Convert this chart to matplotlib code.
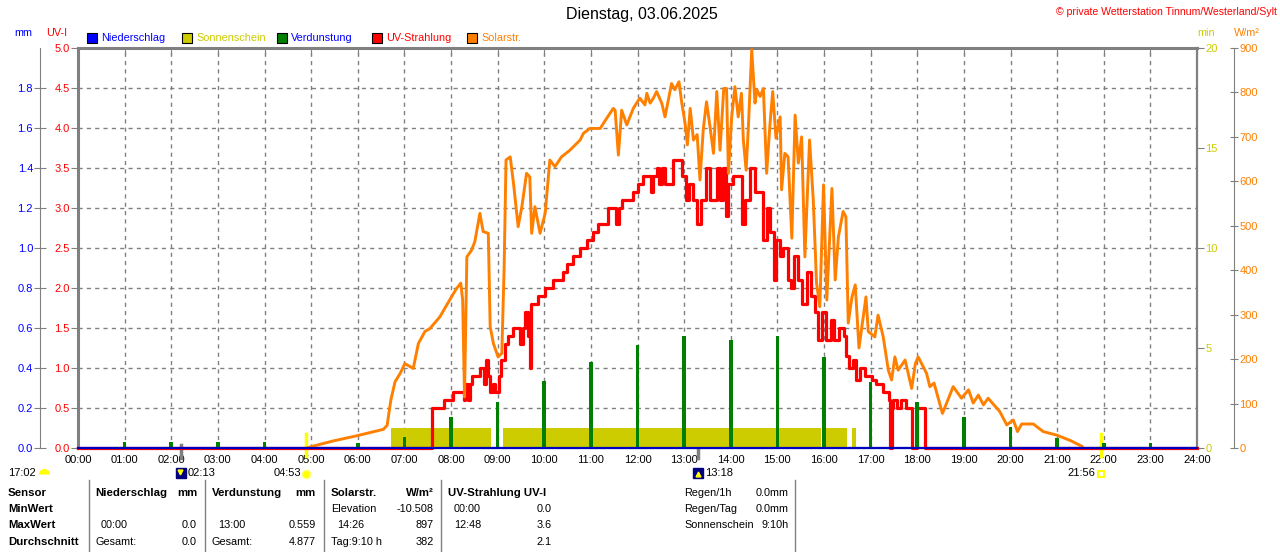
import matplotlib
matplotlib.use("Agg")
import matplotlib.pyplot as plt
from matplotlib.patches import Rectangle

plt.rcParams['font.family'] = ['Liberation Sans', 'DejaVu Sans']

# ---- data ----
hours = list(range(25))
hour_labels = ["%02d:00" % h for h in hours]

# Verdunstung per hour (mm)
evap_hours = [1, 2, 3, 4, 6, 7, 8, 9, 10, 11, 12, 13, 14, 15, 16, 17, 18, 19, 20, 21, 22, 23]
evap_mm = [0.03, 0.03, 0.03, 0.03, 0.025, 0.055, 0.155, 0.23, 0.335, 0.43, 0.515, 0.559,
           0.54, 0.56, 0.455, 0.33, 0.23, 0.155, 0.105, 0.05, 0.025, 0.025]

# Sonnenschein intervals (hours), minutes of sun per sample
sun_start = [6.72, 9.12, 15.96, 16.60]
sun_end = [8.85, 15.93, 16.50, 16.68]
sun_min = [1.0, 1.0, 1.0, 1.0]

# Niederschlag (mm)
rain_t = [0, 24]
rain_mm = [0.0, 0.0]

# UV-Strahlung (UV-I)
uv_t = [0, 7.60, 7.84, 8.05, 8.27, 8.31, 8.36, 8.40, 8.44, 8.62, 8.70, 8.76, 8.80, 8.84,
        8.90, 8.95, 9.02, 9.08, 9.16, 9.23, 9.34, 9.48, 9.55, 9.59, 9.65, 9.69, 9.72, 9.87,
        10.02, 10.19, 10.40, 10.48, 10.62, 10.77, 10.91, 11.05, 11.16, 11.37, 11.53, 11.60,
        11.66, 11.91, 12.00, 12.12, 12.28, 12.33, 12.41, 12.47, 12.52, 12.58, 12.77, 12.95,
        13.03, 13.10, 13.18, 13.28, 13.37, 13.47, 13.55, 13.70, 13.76, 13.84, 13.89, 13.95,
        14.05, 14.24, 14.31, 14.42, 14.52, 14.70, 14.78, 14.85, 14.93, 14.98, 15.05, 15.12,
        15.22, 15.30, 15.36, 15.45, 15.53, 15.63, 15.72, 15.80, 15.88, 15.96, 16.04, 16.14,
        16.21, 16.33, 16.43, 16.48, 16.54, 16.62, 16.68, 16.77, 16.88, 17.02, 17.12, 17.26,
        17.40, 17.42, 17.45, 17.48, 17.56, 17.66, 17.75, 17.88, 18.00, 18.17, 24]
uv_v = [0.0, 0.5, 0.6, 0.7, 0.6, 0.8, 0.6, 0.8, 0.9, 1.0, 0.8, 1.1, 0.9, 0.7,
        0.8, 0.7, 0.9, 1.1, 1.3, 1.4, 1.5, 1.3, 1.5, 1.7, 1.4, 1.0, 1.8, 1.9,
        2.0, 2.1, 2.2, 2.3, 2.4, 2.5, 2.6, 2.7, 2.8, 3.0, 2.8, 3.0,
        3.1, 3.2, 3.3, 3.4, 3.2, 3.4, 3.5, 3.3, 3.5, 3.3, 3.6, 3.4,
        3.1, 3.3, 3.1, 2.8, 3.1, 3.5, 3.1, 3.5, 3.1, 3.5, 2.9, 3.3,
        3.4, 2.8, 3.1, 3.5, 3.2, 2.6, 3.0, 2.7, 2.1, 2.6, 2.4, 2.5,
        2.1, 2.0, 2.4, 2.1, 1.8, 2.2, 1.9, 1.7, 1.35, 1.7, 1.35, 1.6,
        1.35, 1.5, 1.4, 1.15, 1.0, 1.1, 0.85, 1.0, 0.9, 0.85, 0.8, 0.7,
        0.6, 0.0, 0.5, 0.6, 0.5, 0.6, 0.5, 0.0, 0.5, 0.0, 0.0]

# Solarstrahlung (W/m2)
solar_t = [4.92, 5.00, 5.48, 6.00, 6.55, 6.63, 6.71, 6.80, 6.91, 7.01, 7.19, 7.30, 7.44, 7.55,
           7.76, 8.01, 8.12, 8.21, 8.25, 8.29, 8.34, 8.44, 8.51, 8.62, 8.69, 8.80, 8.84, 8.91,
           9.01, 9.09, 9.14, 9.18, 9.27, 9.34, 9.44, 9.52, 9.62, 9.69, 9.73, 9.80, 9.91, 10.02,
           10.12, 10.23, 10.37, 10.55, 10.77, 10.84, 10.98, 11.20, 11.34, 11.48, 11.52, 11.59,
           11.66, 11.77, 11.91, 11.98, 12.05, 12.16, 12.20, 12.27, 12.34, 12.41, 12.52, 12.59,
           12.73, 12.80, 12.89, 12.95, 13.02, 13.07, 13.13, 13.20, 13.28, 13.34, 13.41, 13.48,
           13.55, 13.63, 13.70, 13.77, 13.85, 13.91, 13.95, 14.02, 14.09, 14.16, 14.23, 14.27,
           14.33, 14.38, 14.45, 14.52, 14.56, 14.63, 14.70, 14.77, 14.84, 14.90, 14.97, 15.06,
           15.09, 15.16, 15.23, 15.31, 15.38, 15.45, 15.52, 15.59, 15.69, 15.77, 15.84, 15.91,
           15.99, 16.06, 16.17, 16.24, 16.31, 16.41, 16.47, 16.52, 16.60, 16.67, 16.75, 16.90,
           16.95, 17.09, 17.16, 17.27, 17.38, 17.45, 17.52, 17.59, 17.74, 17.88, 17.96, 18.02,
           18.20, 18.27, 18.36, 18.54, 18.63, 18.77, 18.95, 19.10, 19.20, 19.31, 19.42, 19.52,
           19.77, 19.92, 20.06, 20.15, 20.24, 20.49, 20.70, 20.99, 21.28, 21.53, 21.56]
solar_v = [0, 3, 16, 28, 42, 51, 108, 149, 168, 190, 179, 235, 262, 269,
           295, 340, 359, 371, 333, 115, 430, 445, 464, 528, 487, 483, 273, 235,
           205, 213, 408, 648, 655, 596, 498, 543, 618, 610, 483, 543, 483, 528,
           648, 633, 655, 670, 693, 708, 719, 719, 742, 764, 760, 659,
           760, 727, 764, 776, 787, 772, 798, 776, 787, 802, 776, 745,
           820, 806, 824, 776, 731, 682, 764, 693, 705, 603, 716, 779,
           727, 663, 802, 670, 809, 809, 618, 745, 813, 745, 798, 693,
           625, 727, 896, 776, 806, 791, 809, 618, 727, 802, 697, 745,
           581, 663, 655, 472, 749, 641, 700, 430, 693, 558, 371, 318,
           592, 333, 584, 378, 476, 532, 520, 281, 340, 367, 225, 340,
           262, 250, 299, 250, 175, 153, 205, 175, 198, 134, 190, 205,
           168, 138, 146, 78, 101, 138, 112, 131, 101, 119, 97, 112,
           82, 52, 63, 37, 54, 54, 37, 29, 17, 4, 0]

sunrise, sunset = 4 + 53 / 60, 21 + 56 / 60
moonrise, moonset = 2 + 13 / 60, 13 + 18 / 60

GRAY = '#808080'
ORANGE = '#FF8000'
YELLOW = '#CCCC00'
GREEN = '#008000'

W, H = 1280, 552
PT = 0.72  # points per pixel at 100 dpi
fig = plt.figure(figsize=(W / 100, H / 100), dpi=100)
fig.patch.set_facecolor('white')

ax = fig.add_axes([78 / W, 104 / H, 1119 / W, 400 / H])
ax.set_xlim(0, 24)
ax.set_ylim(0, 5)
ax.set_xticks(hours)
ax.set_xticklabels(hour_labels)
ax.set_yticks([i * 0.5 for i in range(11)])
ax.set_yticklabels(["%.1f" % (i * 0.5) for i in range(11)])
ax.grid(True, color=GRAY, linestyle=(0, (3, 3)), linewidth=1)
ax.tick_params(axis='x', bottom=False, top=True, direction='in', length=5, color=GRAY,
               labelsize=8, pad=5)
ax.tick_params(axis='y', direction='out', length=5, color=GRAY, labelcolor='red', labelsize=8, pad=1)
for s in ['left', 'top']:
    ax.spines[s].set_color(GRAY)
    ax.spines[s].set_linewidth(2.2)
ax.spines['right'].set_color(GRAY)
ax.spines['right'].set_linewidth(1.6)
ax.spines['bottom'].set_color(GRAY)
ax.spines['bottom'].set_linewidth(1.5)

# minutes axis (Sonnenschein)
ax_min = ax.twinx()
ax_min.set_ylim(0, 20)
ax_min.set_yticks([0, 5, 10, 15, 20])
ax_min.tick_params(axis='y', direction='out', length=5, color=GRAY, labelcolor=YELLOW, labelsize=8, pad=1)
for s in ax_min.spines.values():
    s.set_visible(False)
ax_min.bar(sun_start, sun_min, width=[e - s for s, e in zip(sun_start, sun_end)],
           align='edge', color=YELLOW, linewidth=0)

# UV line layer
ax_uv = ax.twinx()
ax_uv.set_ylim(0, 5)
ax_uv.axis('off')
ax_uv.plot(uv_t, uv_v, color='red', lw=2.3, drawstyle='steps-post', clip_on=False)

# W/m2 axis (Solarstr.)
ax_w = ax.twinx()
ax_w.set_ylim(0, 900)
ax_w.set_yticks(range(0, 901, 100))
for k, s in ax_w.spines.items():
    s.set_visible(k == 'right')
ax_w.spines['right'].set_position(('outward', 37 * PT))
ax_w.spines['right'].set_color(GRAY)
ax_w.tick_params(axis='y', direction='inout', length=6, color=GRAY, labelcolor=ORANGE, labelsize=8, pad=1)
ax_w.plot(solar_t, solar_v, color=ORANGE, lw=2.1)

# mm axis (Niederschlag / Verdunstung)
ax_mm = ax.twinx()
ax_mm.set_ylim(0, 2)
ax_mm.yaxis.tick_left()
ax_mm.set_yticks([i * 0.2 for i in range(10)])
ax_mm.set_yticklabels(["%.1f" % (i * 0.2) for i in range(10)])
for k, s in ax_mm.spines.items():
    s.set_visible(k == 'left')
ax_mm.spines['left'].set_position(('outward', 38 * PT))
ax_mm.spines['left'].set_color(GRAY)
ax_mm.tick_params(axis='y', direction='inout', length=8, color=GRAY, labelcolor='blue', labelsize=8, pad=1)
ax_mm.bar(evap_hours, evap_mm, width=0.08, color=GREEN, linewidth=0)
ax_mm.plot(rain_t, rain_mm, color='#0000C0', lw=1.6, clip_on=False)

# sun / moon markers below the axis
trans = ax.get_xaxis_transform()
for t in (sunrise, sunset):
    ax.plot([t, t], [0.035, -0.02], color='#FFFF00', lw=2.5, transform=trans, clip_on=False, zorder=5)
for t in (moonrise, moonset):
    ax.plot([t, t], [0.008, -0.024], color=GRAY, lw=2.5, transform=trans, clip_on=False, zorder=5)

# overlay in pixel coordinates for texts
ov = fig.add_axes([0, 0, 1, 1])
ov.set_xlim(0, W)
ov.set_ylim(H, 0)
ov.axis('off')

ov.text(642, 15, "Dienstag, 03.06.2025", ha='center', va='center', fontsize=11.5)
ov.text(1277, 12, "\u00a9 private Wetterstation Tinnum/Westerland/Sylt", ha='right', va='center',
        fontsize=7.6, color='red')
ov.text(14, 33, "mm", color='blue', fontsize=7.8, va='center')
ov.text(46, 33, "UV-I", color='red', fontsize=7.8, va='center')
ov.text(1197, 33, "min", color=YELLOW, fontsize=7.8, va='center')
ov.text(1234, 33, "W/m\u00b2", color=ORANGE, fontsize=7.8, va='center')

legend_items = [(87, 'blue', "Niederschlag", 'blue'),
                (182, YELLOW, "Sonnenschein", YELLOW),
                (277, GREEN, "Verdunstung", 'blue'),
                (372, 'red', "UV-Strahlung", 'red'),
                (467, ORANGE, "Solarstr.", ORANGE)]
for x0, fc, label, tc in legend_items:
    ov.add_patch(Rectangle((x0, 33), 10, 10, facecolor=fc, edgecolor='black', lw=0.8))
    ov.text(x0 + 14, 38, label, color=tc, fontsize=7.8, va='center')

# sun & moon times
ov.text(8, 473, "17:02", fontsize=8, va='center')
ov.plot([44], [474], marker='o', ms=8, color='#FFFF00', fillstyle='top', markerfacecoloralt='none',
        markeredgewidth=0)
ov.plot([181], [473], marker='s', ms=6.5, color='#000080')
ov.plot([180], [472], marker='v', ms=3.5, color='#FFFF00')
ov.text(188, 473, "02:13", fontsize=8, va='center')
ov.text(301, 473, "04:53", fontsize=8, va='center', ha='right')
ov.plot([306], [474], marker='o', ms=6, color='#FFFF00', markeredgecolor='#FFFF80')
ov.plot([698], [473], marker='s', ms=6.5, color='#000080')
ov.plot([698], [474], marker='^', ms=3.5, color='#FFFF00')
ov.text(705, 473, "13:18", fontsize=8, va='center')
ov.text(1095, 473, "21:56", fontsize=8, va='center', ha='right')
ov.plot([1101], [474], marker='s', ms=5, markerfacecolor='none', markeredgecolor='#FFFF00', mew=1.5)

# summary table
for x in (88.6, 205.3, 323.7, 440.8, 795):
    ov.plot([x, x], [480, 552], color=GRAY, lw=1)

rows_y = [493, 509, 525, 542]
bold = dict(fontsize=8.2, fontweight='bold', va='center')
norm = dict(fontsize=7.8, va='center')
for y, lab in zip(rows_y, ["Sensor", "MinWert", "MaxWert", "Durchschnitt"]):
    ov.text(8, y, lab, **bold)

ov.text(95, rows_y[0], "Niederschlag", **bold)
ov.text(198, rows_y[0], "mm", ha='right', **bold)
ov.text(212, rows_y[0], "Verdunstung", **bold)
ov.text(316, rows_y[0], "mm", ha='right', **bold)
ov.text(331, rows_y[0], "Solarstr.", **bold)
ov.text(434, rows_y[0], "W/m\u00b2", ha='right', **bold)
ov.text(448, rows_y[0], "UV-Strahlung UV-I", **bold)

cells = [
    (101, 'left', 2, "00:00"), (197, 'right', 2, "0.0"),
    (95, 'left', 3, "Gesamt:"), (197, 'right', 3, "0.0"),
    (218, 'left', 2, "13:00"), (316, 'right', 2, "0.559"),
    (212, 'left', 3, "Gesamt:"), (316, 'right', 3, "4.877"),
    (331, 'left', 1, "Elevation"), (434, 'right', 1, "-10.508"),
    (337, 'left', 2, "14:26"), (434, 'right', 2, "897"),
    (331, 'left', 3, "Tag:9:10 h"), (434, 'right', 3, "382"),
    (454, 'left', 1, "00:00"), (552, 'right', 1, "0.0"),
    (454, 'left', 2, "12:48"), (552, 'right', 2, "3.6"),
    (552, 'right', 3, "2.1"),
    (684, 'left', 0, "Regen/1h"), (789, 'right', 0, "0.0mm"),
    (684, 'left', 1, "Regen/Tag"), (789, 'right', 1, "0.0mm"),
    (684, 'left', 2, "Sonnenschein"), (789, 'right', 2, "9:10h"),
]
for x, ha, r, txt in cells:
    ov.text(x, rows_y[r], txt, ha=ha, **norm)

fig.savefig("out.png", dpi=100)
